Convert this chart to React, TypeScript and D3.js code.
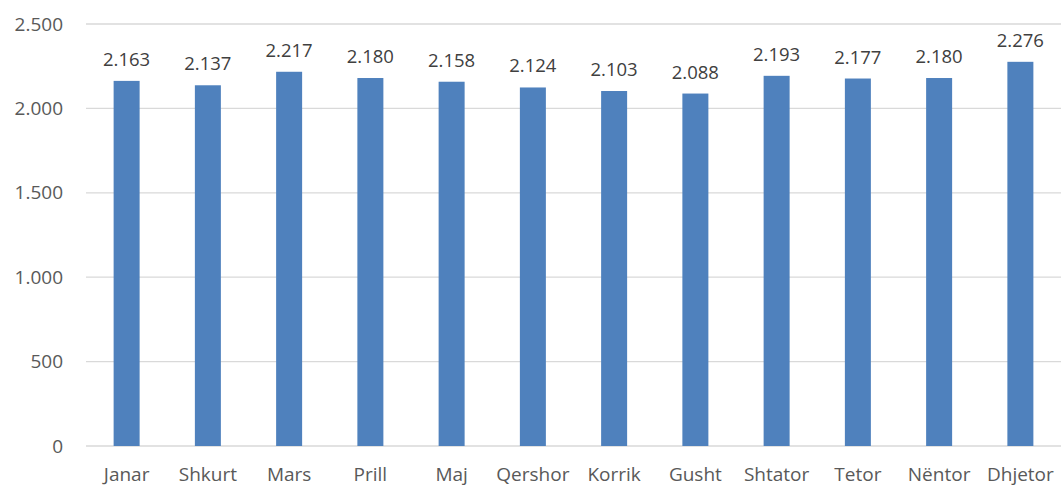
import { scaleBand, scaleLinear } from 'd3'

const months = ['Janar', 'Shkurt', 'Mars', 'Prill', 'Maj', 'Qershor', 'Korrik', 'Gusht', 'Shtator', 'Tetor', 'Nëntor', 'Dhjetor']
const values = [2163, 2137, 2217, 2180, 2158, 2124, 2103, 2088, 2193, 2177, 2180, 2276]
const yTicks = [0, 500, 1000, 1500, 2000, 2500]

const fmt = (v: number) => v.toString().replace(/\B(?=(\d{3})+(?!\d))/g, '.')

const App = () => {
  const width = 1062
  const height = 487
  const left = 86
  const right = 1061
  const top = 24
  const bottom = 446

  const x = scaleBand<string>().domain(months).range([left, right]).paddingInner(0.68).paddingOuter(0.34)
  const y = scaleLinear().domain([0, 2500]).range([bottom, top])

  const font = "'Open Sans', 'Liberation Sans', sans-serif"
  const textColor = '#595959'

  return (
    <svg width={width} height={height} style={{ position: 'absolute', left: 0, top: 0, background: '#fff' }}>
      {yTicks.map(t => (
        <g key={t}>
          <line x1={left} x2={right} y1={y(t)} y2={y(t)} stroke="#d9d9d9" strokeWidth={1.3} />
          <text x={63} y={y(t)} dy="0.35em" textAnchor="end" fontFamily={font} fontSize={19} fill={textColor}>{fmt(t)}</text>
        </g>
      ))}
      {months.map((m, i) => (
        <g key={m}>
          <rect x={x(m)} y={y(values[i])} width={x.bandwidth()} height={bottom - y(values[i])} fill="#4f81bd" />
          <text x={(x(m) ?? 0) + x.bandwidth() / 2} y={y(values[i]) - 15} textAnchor="middle" fontFamily={font} fontSize={18.5} fill="#404040">{fmt(values[i])}</text>
          <text x={(x(m) ?? 0) + x.bandwidth() / 2} y={481} textAnchor="middle" fontFamily={font} fontSize={19} fill={textColor}>{m}</text>
        </g>
      ))}
    </svg>
  )
}

export default App
